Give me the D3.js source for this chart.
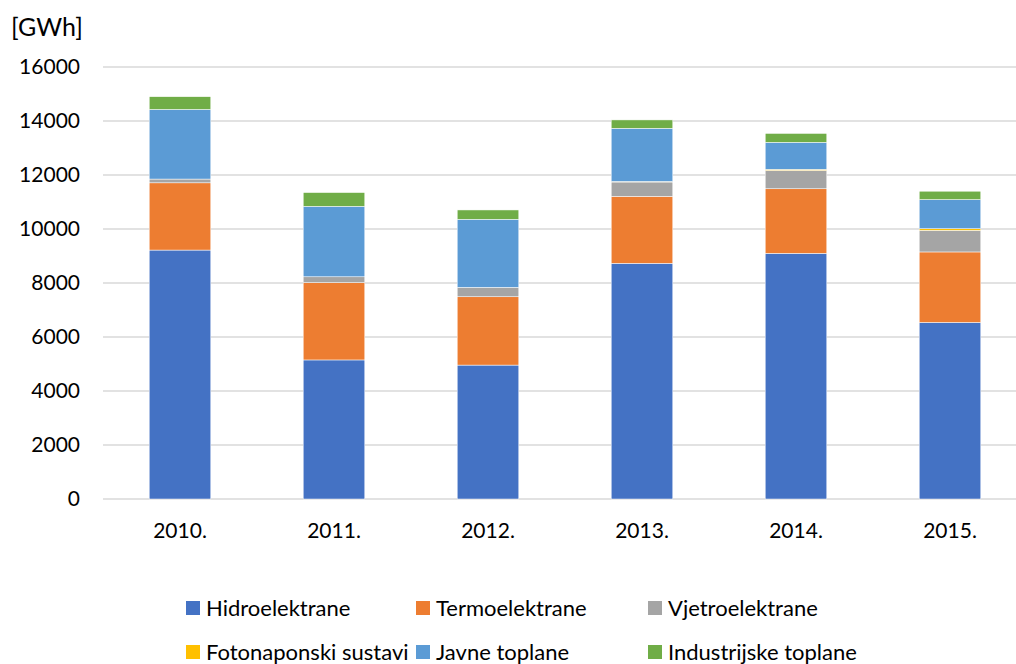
<!DOCTYPE html>
<html>
<head>
<meta charset="utf-8">
<title>Proizvodnja</title>
<script src="https://d3js.org/d3.v7.min.js"></script>
<style>
    body { margin: 0; background: #fff; }
    text { font-family: Lato, "Open Sans", sans-serif; fill: #000; }
    .grid line { stroke: #d9d9d9; stroke-width: 1.5px; }
</style>
</head>
<body>
<div id="chart"></div>
<script>
// years and series (GWh)
let years = ["2010.", "2011.", "2012.", "2013.", "2014.", "2015."];
let series = ["Hidroelektrane", "Termoelektrane", "Vjetroelektrane", "Fotonaponski sustavi", "Javne toplane", "Industrijske toplane"];
let hidro  = [9220, 5150, 4960, 8730, 9100, 6540];
let termo  = [2490, 2860, 2530, 2480, 2390, 2610];
let vjetro = [140, 220, 350, 530, 680, 800];
let foto   = [0, 0, 0, 20, 40, 60];
let javne  = [2580, 2610, 2520, 1970, 1000, 1080];
let indus  = [470, 510, 345, 310, 330, 310];
let yTicks = [0, 2000, 4000, 6000, 8000, 10000, 12000, 14000, 16000];
let colors = ["#4472c4", "#ed7d31", "#a5a5a5", "#ffc000", "#5b9bd5", "#70ad47"];

let width = 1016, height = 664;
let plot = { left: 103, right: 1027, top: 67, bottom: 499 };

let rows = years.map((y, i) => ({
    year: y,
    "Hidroelektrane": hidro[i],
    "Termoelektrane": termo[i],
    "Vjetroelektrane": vjetro[i],
    "Fotonaponski sustavi": foto[i],
    "Javne toplane": javne[i],
    "Industrijske toplane": indus[i]
}));

let svg = d3.select("#chart").append("svg")
    .attr("width", width).attr("height", height);

let x = d3.scaleBand().domain(years).range([plot.left, plot.right]).paddingInner(0.6).paddingOuter(0.3);
let y = d3.scaleLinear().domain([0, 16000]).range([plot.bottom, plot.top]);
let color = d3.scaleOrdinal().domain(series).range(colors);

// gridlines
svg.append("g").attr("class", "grid")
    .selectAll("line").data(yTicks).join("line")
    .attr("x1", plot.left).attr("x2", plot.right)
    .attr("y1", d => y(d)).attr("y2", d => y(d));

// y tick labels
svg.append("g").selectAll("text").data(yTicks).join("text")
    .attr("x", 80).attr("y", d => y(d))
    .attr("dy", "0.35em")
    .attr("text-anchor", "end")
    .style("font-size", "21px")
    .text(d => d);

svg.append("text").attr("x", 11).attr("y", 36)
    .style("font-size", "25px").text("[GWh]");

// stacked bars
let stacked = d3.stack().keys(series)(rows);
svg.append("g").selectAll("g").data(stacked).join("g")
    .attr("fill", d => color(d.key))
    .selectAll("rect").data(d => d).join("rect")
    .attr("x", d => x(d.data.year))
    .attr("width", x.bandwidth())
    .attr("y", d => y(d[1]))
    .attr("height", d => y(d[0]) - y(d[1]))
    .attr("stroke", "#fff").attr("stroke-width", 0.5);

// x labels
svg.append("g").selectAll("text").data(years).join("text")
    .attr("x", d => x(d) + x.bandwidth() / 2)
    .attr("y", 538)
    .attr("text-anchor", "middle")
    .style("font-size", "21px")
    .text(d => d);

// legend, 3 per row
let legX = [186, 416, 648], legY = [608, 652];
let leg = svg.append("g").selectAll("g").data(series).join("g")
    .attr("transform", (d, i) => "translate(" + legX[i % 3] + "," + legY[Math.floor(i / 3)] + ")");
leg.append("rect").attr("x", 0).attr("y", -7).attr("width", 14).attr("height", 14)
    .attr("fill", d => color(d));
leg.append("text").attr("x", 20).attr("y", 0).attr("dy", "0.35em")
    .style("font-size", "22px")
    .text(d => d);
</script>
</body>
</html>
